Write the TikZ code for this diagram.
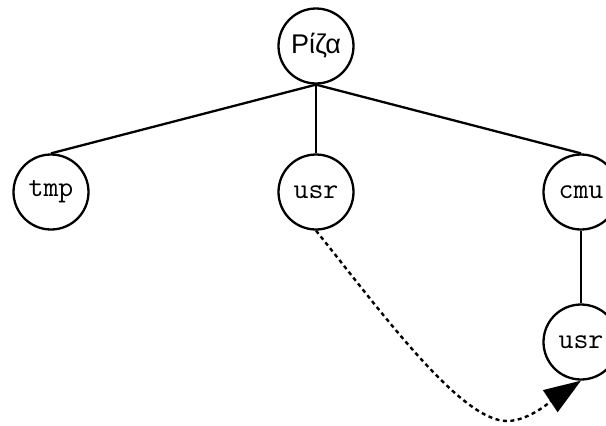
\documentclass[tikz,border=0pt]{standalone}
\usepackage{fontspec}
\setmainfont{Liberation Sans}
\usetikzlibrary{arrows.meta}
\begin{document}
\begin{tikzpicture}[x=1pt,y=-1pt,
  treenode/.style={circle,draw,line width=2.3pt,minimum size=75pt,inner sep=0pt},
  monotext/.style={font=\fontsize{29}{32}\selectfont\ttfamily},
  edge/.style={line width=2.3pt},
  linkarrow/.style={line width=2.4pt,dash pattern=on 4pt off 3.5pt,
    -{Triangle[length=37pt,width=26pt]}}]
\useasboundingbox (0,0) rectangle (606,426);
\node[treenode,font=\fontsize{27}{30}\selectfont] (root) at (316,46) {Ρίζα};
\node[treenode,monotext] (tmp) at (51,192) {tmp};
\node[treenode,monotext] (usr) at (316,192) {usr};
\node[treenode,monotext] (cmu) at (581,192) {cmu};
\node[treenode,monotext] (usrb) at (581,342) {usr};
\draw[edge] (root.south) -- (tmp.north);
\draw[edge] (root.south) -- (usr.north);
\draw[edge] (root.south) -- (cmu.north);
\draw[edge] (cmu.south) -- (usrb.north);
\coordinate (low) at (507,421);
\draw[linkarrow] (usr.south) .. controls (380,310) and (460,421) .. (low)
  .. controls (530,421) and (555,398) .. (usrb.south);
\end{tikzpicture}
\end{document}
